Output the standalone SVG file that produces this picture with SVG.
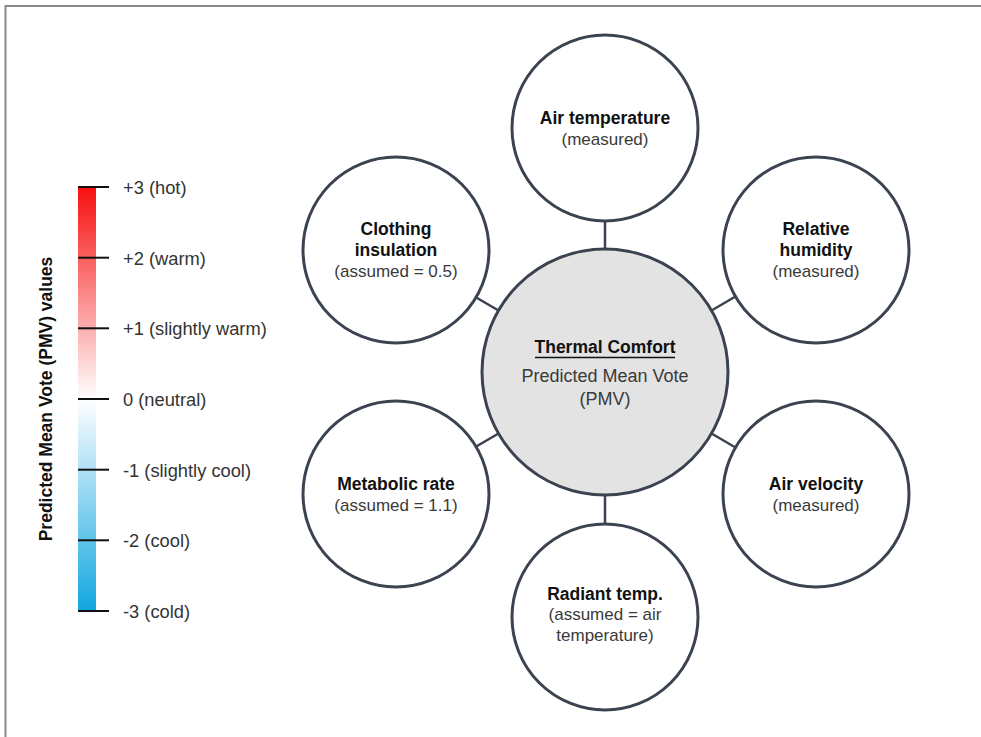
<svg xmlns="http://www.w3.org/2000/svg" width="981" height="737" viewBox="0 0 981 737">
<defs>
<linearGradient id="pmv" x1="0" y1="0" x2="0" y2="1">
<stop offset="0" stop-color="#f70f0f"/>
<stop offset="0.5" stop-color="#ffffff"/>
<stop offset="1" stop-color="#12a6e0"/>
</linearGradient>
<style>
.c{fill:#fff;stroke:#3b4350;stroke-width:3}
.ctr{fill:#e3e3e3;stroke:#3b4350;stroke-width:3}
.ln{stroke:#3b4350;stroke-width:2.5}
.t{font-family:"Liberation Sans",Arial,sans-serif;text-anchor:middle}
.b{font-weight:bold;font-size:17.5px;fill:#111}
.r{font-size:17px;fill:#3a3a3a}
.tick{stroke:#111;stroke-width:2}
.lab{font-family:"Liberation Sans",Arial,sans-serif;font-size:18.3px;fill:#333}
</style>
</defs>
<rect x="0" y="0" width="981" height="737" fill="#fff"/>
<path d="M5.5,737 V6 H981" fill="none" stroke="#8a8a8a" stroke-width="2"/>

<g id="scale">
<rect x="78" y="187" width="18" height="424" fill="url(#pmv)"/>
<line class="tick" x1="78" y1="187" x2="109" y2="187"/>
<line class="tick" x1="78" y1="257.7" x2="109" y2="257.7"/>
<line class="tick" x1="78" y1="328.3" x2="109" y2="328.3"/>
<line class="tick" x1="78" y1="399" x2="109" y2="399"/>
<line class="tick" x1="78" y1="469.7" x2="109" y2="469.7"/>
<line class="tick" x1="78" y1="540.3" x2="109" y2="540.3"/>
<line class="tick" x1="78" y1="611" x2="109" y2="611"/>
<text class="lab" x="123" y="193.5">+3 (hot)</text>
<text class="lab" x="123" y="264.5">+2 (warm)</text>
<text class="lab" x="123" y="335">+1 (slightly warm)</text>
<text class="lab" x="123" y="405.5">0 (neutral)</text>
<text class="lab" x="123" y="476.5">-1 (slightly cool)</text>
<text class="lab" x="123" y="547">-2 (cool)</text>
<text class="lab" x="123" y="617.5">-3 (cold)</text>
<text x="0" y="0" transform="translate(52,399) rotate(-90)" text-anchor="middle" font-family="Liberation Sans, Arial, sans-serif" font-weight="bold" font-size="17.5" fill="#111">Predicted Mean Vote (PMV) values</text>
</g>

<g id="connectors">
<line class="ln" x1="605" y1="222" x2="605" y2="250"/>
<line class="ln" x1="605" y1="496" x2="605" y2="524"/>
<line class="ln" x1="474.5" y1="296.5" x2="498.5" y2="310.5"/>
<line class="ln" x1="735.5" y1="296.5" x2="711.5" y2="310.5"/>
<line class="ln" x1="474.5" y1="447.5" x2="498.5" y2="433.5"/>
<line class="ln" x1="735.5" y1="447.5" x2="711.5" y2="433.5"/>
</g>

<g id="center">
<circle class="ctr" cx="605" cy="372" r="123"/>
<text class="t b" x="605" y="353">Thermal Comfort</text>
<line x1="535" y1="357.5" x2="675" y2="357.5" stroke="#111" stroke-width="1.3"/>
<text class="t" x="605" y="382" font-size="18" fill="#3a3a3a">Predicted Mean Vote</text>
<text class="t" x="605" y="405" font-size="18" fill="#3a3a3a">(PMV)</text>
</g>

<g id="air-temperature">
<circle class="c" cx="605" cy="128" r="93"/>
<text class="t b" x="605" y="124">Air temperature</text>
<text class="t r" x="605" y="145">(measured)</text>
</g>

<g id="relative-humidity">
<circle class="c" cx="816" cy="250" r="93"/>
<text class="t b" x="816" y="235">Relative</text>
<text class="t b" x="816" y="256">humidity</text>
<text class="t r" x="816" y="277">(measured)</text>
</g>

<g id="air-velocity">
<circle class="c" cx="816" cy="494" r="93"/>
<text class="t b" x="816" y="490">Air velocity</text>
<text class="t r" x="816" y="511">(measured)</text>
</g>

<g id="radiant-temp">
<circle class="c" cx="605" cy="617" r="93"/>
<text class="t b" x="605" y="600">Radiant temp.</text>
<text class="t r" x="605" y="620">(assumed = air</text>
<text class="t r" x="605" y="641">temperature)</text>
</g>

<g id="metabolic-rate">
<circle class="c" cx="396" cy="494" r="93"/>
<text class="t b" x="396" y="490">Metabolic rate</text>
<text class="t r" x="396" y="511">(assumed = 1.1)</text>
</g>

<g id="clothing-insulation">
<circle class="c" cx="396" cy="250" r="93"/>
<text class="t b" x="396" y="235">Clothing</text>
<text class="t b" x="396" y="256">insulation</text>
<text class="t r" x="396" y="277">(assumed = 0.5)</text>
</g>
</svg>
